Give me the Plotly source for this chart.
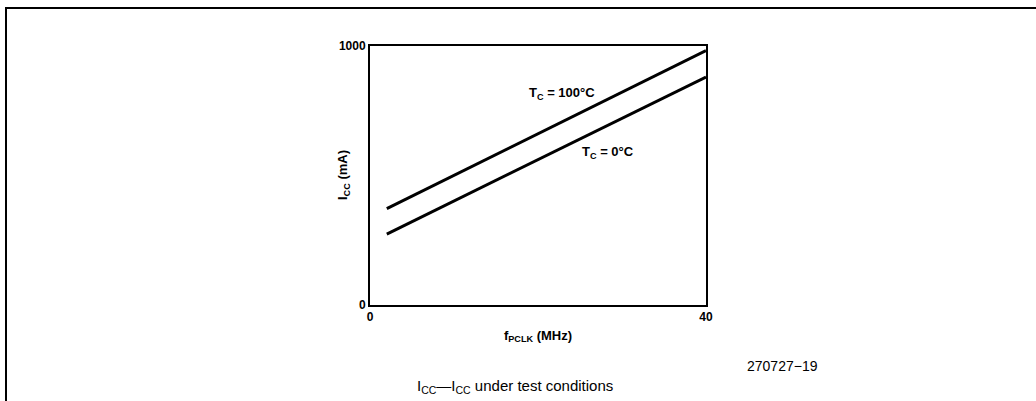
import plotly.graph_objects as go

# f_PCLK (MHz) vs I_CC (mA)
freq = [2, 40]
icc_100c = [372, 982]
icc_0c = [274, 880]

x_ticks = [0, 40]
y_ticks = [0, 1000]

W, H = 1036, 401
L, R, T, B = 370, 706, 46, 305

fig = go.Figure()
fig.add_trace(go.Scatter(x=freq, y=icc_100c, mode="lines",
                         line=dict(color="black", width=3), name="Tc=100C"))
fig.add_trace(go.Scatter(x=freq, y=icc_0c, mode="lines",
                         line=dict(color="black", width=3), name="Tc=0C"))

bold = dict(family="Liberation Sans", size=12, color="black")
lab = dict(family="Liberation Sans", size=13, color="black")

fig.add_annotation(x=22.9, y=818, text="<b>T<sub>C</sub> = 100°C</b>", showarrow=False,
                   xanchor="center", yanchor="middle", font=lab)
fig.add_annotation(x=28.3, y=587, text="<b>T<sub>C</sub> = 0°C</b>", showarrow=False,
                   xanchor="center", yanchor="middle", font=lab)

def px(xp):
    return (xp - L) / (R - L)

def py(yp):
    return (B - yp) / (B - T)

# y axis title sits close to the frame, over the tick label column
fig.add_annotation(xref="paper", yref="paper", x=px(343), y=py(175),
                   xanchor="center", yanchor="middle", textangle=-90,
                   text="<b>I<sub>CC</sub> (mA)</b>", showarrow=False, font=lab)

# outer page frame (top and left)
fig.add_shape(type="line", xref="paper", yref="paper",
              x0=px(5), x1=px(1036), y0=py(8), y1=py(8),
              line=dict(color="black", width=2))
fig.add_shape(type="line", xref="paper", yref="paper",
              x0=px(6), x1=px(6), y0=py(8), y1=py(401),
              line=dict(color="black", width=2))

fig.add_annotation(xref="paper", yref="paper", x=px(782), y=py(366),
                   xanchor="center", yanchor="middle",
                   text="270727−19", showarrow=False,
                   font=dict(family="Liberation Sans", size=14, color="black"))
fig.add_annotation(xref="paper", yref="paper", x=px(515), y=py(386),
                   xanchor="center", yanchor="middle",
                   text="I<sub>CC</sub>—I<sub>CC</sub> under test conditions",
                   showarrow=False,
                   font=dict(family="Liberation Sans", size=15, color="black"))

fig.update_layout(
    width=W, height=H,
    margin=dict(l=L, r=W - R, t=T, b=H - B),
    paper_bgcolor="white", plot_bgcolor="white",
    showlegend=False,
    xaxis=dict(range=[0, 40], tickvals=x_ticks, ticktext=["<b>0</b>", "<b>40</b>"],
               ticks="", showgrid=False,
               zeroline=False, showline=True, linecolor="black", linewidth=2,
               mirror=True, tickfont=bold,
               title=dict(text="<b>f<sub>PCLK</sub> (MHz)</b>", standoff=7, font=lab)),
    yaxis=dict(range=[0, 1000], tickvals=y_ticks, ticktext=["<b>0</b>", "<b>1000</b>"],
               ticks="", showgrid=False,
               zeroline=False, showline=True, linecolor="black", linewidth=2,
               mirror=True, tickfont=bold),
)

# drop the page's default body margin so the figure sits at the window origin
fig.write_html("out.html", config={"displayModeBar": False},
               post_script="document.body.style.margin='0';")
